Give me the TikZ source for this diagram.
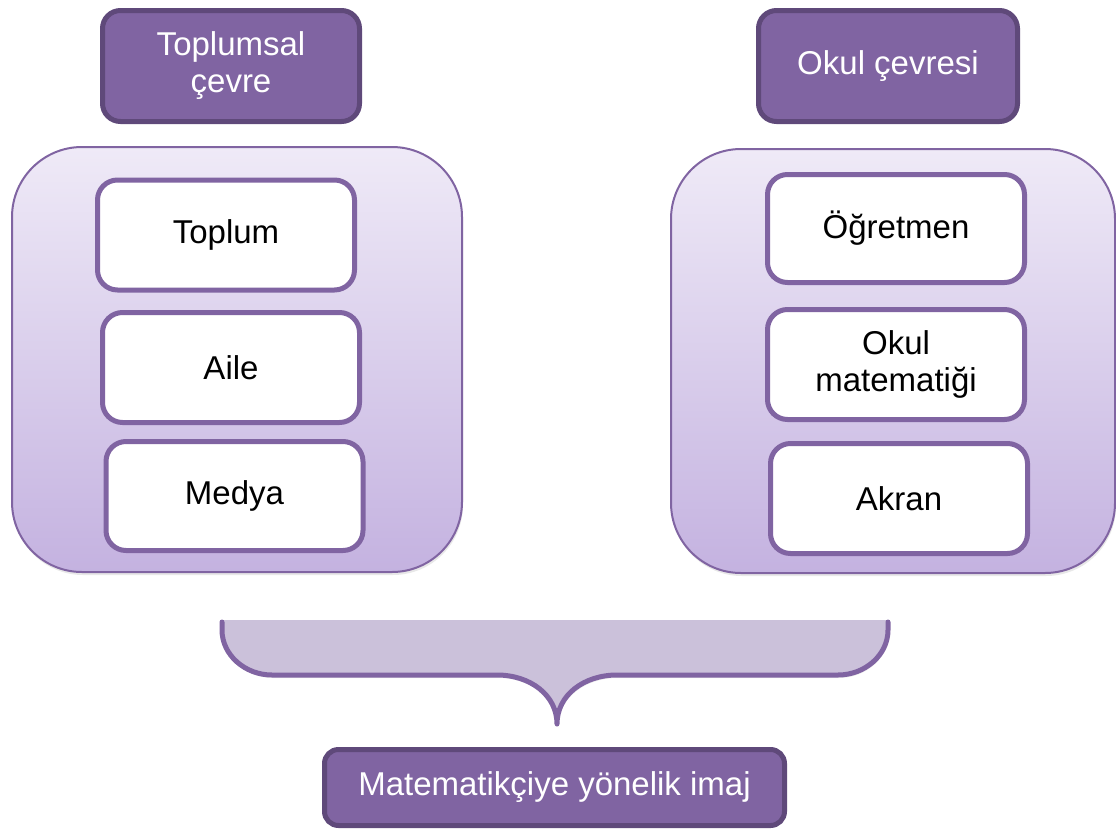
\documentclass[tikz,border=0pt]{standalone}
\usepackage{fontspec}
\setmainfont{Liberation Sans}
\usetikzlibrary{shadows}
\definecolor{hdrfill}{HTML}{8064A2}
\definecolor{hdrdraw}{HTML}{5F497A}
\definecolor{boxdraw}{HTML}{8064A2}
\definecolor{ctop}{HTML}{EFEAF7}
\definecolor{cbot}{HTML}{C4B2E0}
\definecolor{bracefill}{HTML}{CBC1DA}
\begin{document}
\begin{tikzpicture}[x=1pt,y=-1pt,
  every node/.style={font=\fontsize{33}{37}\selectfont},
  header/.style={rectangle, rounded corners=18pt, fill=hdrfill, draw=hdrdraw, line width=5pt,
    text=white, align=center, minimum width=257pt, minimum height=111pt, inner sep=0pt,
    drop shadow={opacity=0.18, shadow xshift=1pt, shadow yshift=-2pt}},
  item/.style={rectangle, rounded corners=20pt, fill=white, draw=boxdraw, line width=5pt,
    text=black, align=center, minimum width=257pt, minimum height=110pt, inner sep=0pt},
  container/.style={rectangle, rounded corners=70pt, top color=ctop, bottom color=cbot,
    draw=boxdraw, line width=2pt, inner sep=0pt,
    drop shadow={opacity=0.18, shadow xshift=1pt, shadow yshift=-3pt}},
  bracestroke/.style={draw=boxdraw, line width=5pt, line cap=round, line join=round}
]
\useasboundingbox (0,0) rectangle (1116,830);

% containers
\node[container, minimum width=450pt, minimum height=425pt] (lc) at (237,359.5) {};
\node[container, minimum width=444pt, minimum height=424pt] (rc) at (893,361) {};

% headers
\node[header] (lh) at (231,66) {Toplumsal\\çevre};
\node[header, minimum width=259pt] (rh) at (888,66) {Okul çevresi};

% left items
\node[item] (toplum) at (226,235) {Toplum};
\node[item] (aile) at (231,367.5) {Aile};
\node[item, minimum height=109pt] (medya) at (234.5,496) {Medya};

% right items
\node[item, minimum height=108pt] (ogretmen) at (896,228.5) {Öğretmen};
\node[item] (okulmat) at (896,364.5) {Okul\\matematiği};
\node[item] (akran) at (899,498.5) {Akran};

% brace
\fill[bracefill, drop shadow={opacity=0.15, shadow xshift=1pt, shadow yshift=-3pt}]
  (222,620) -- (222,630) .. controls (222,655) and (245,675) .. (272,675)
  -- (497,675) .. controls (530,675) and (557,695) .. (557,724)
  .. controls (557,695) and (584,675) .. (617,675)
  -- (838,675) .. controls (865,675) and (888,655) .. (888,630) -- (888,620) -- cycle;
\draw[bracestroke]
  (222,622) -- (222,630) .. controls (222,655) and (245,675) .. (272,675)
  -- (497,675) .. controls (530,675) and (557,695) .. (557,724)
  .. controls (557,695) and (584,675) .. (617,675)
  -- (838,675) .. controls (865,675) and (888,655) .. (888,630) -- (888,622);
\coordinate (bracetip) at (557,724);

% result
\node[header, minimum width=460pt, minimum height=76pt, rounded corners=14pt] (imaj) at (554.5,787.5) {Matematikçiye yönelik imaj};
\end{tikzpicture}
\end{document}
